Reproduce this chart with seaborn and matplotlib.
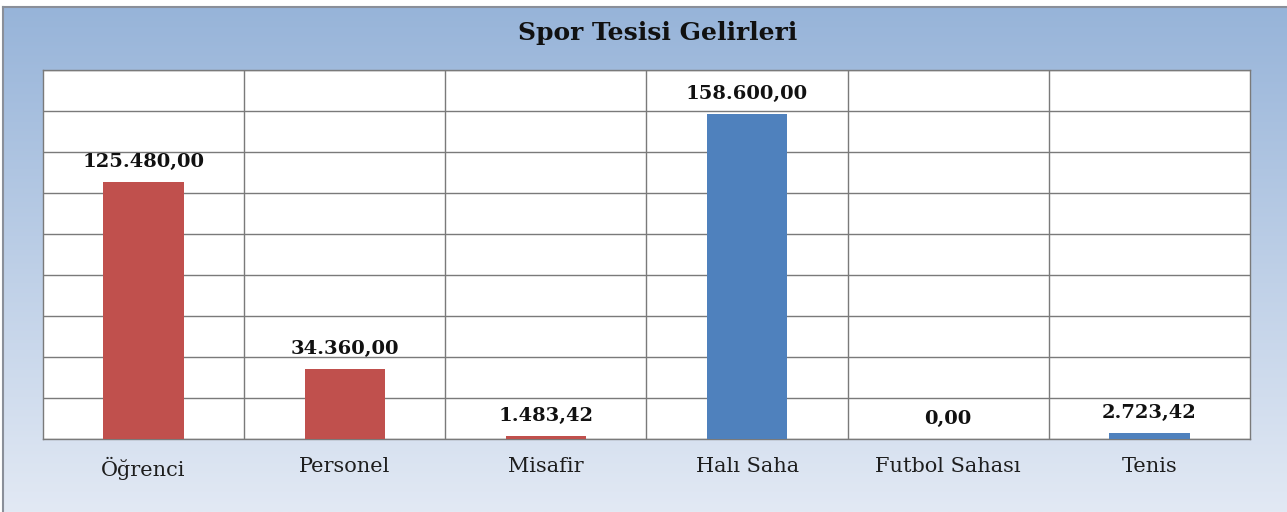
import numpy as np
import pandas as pd
import matplotlib
matplotlib.use("Agg")
import matplotlib.pyplot as plt
import seaborn as sns

categories = ["Öğrenci", "Personel", "Misafir", "Halı Saha", "Futbol Sahası", "Tenis"]
values = [125480.00, 34360.00, 1483.42, 158600.00, 0.00, 2723.42]
colors = ["#C0504D", "#C0504D", "#C0504D", "#4F81BD", "#4F81BD", "#4F81BD"]
title = "Spor Tesisi Gelirleri"

sns.set_theme(style="white")
plt.rcParams['font.family'] = ['DejaVu Serif', 'Liberation Serif']

W, H = 1287, 512
fig = plt.figure(figsize=(W / 100, H / 100), dpi=100, facecolor="white")

# gradient chart-area background
bg = fig.add_axes([3 / W, 0, 1 - 3 / W, 1 - 7 / H], zorder=0)
top = np.array([0x97, 0xB4, 0xD9]) / 255
bot = np.array([0xE2, 0xE9, 0xF4]) / 255
t = np.linspace(0, 1, 256)[:, None]
grad = top[None, :] * (1 - t) + bot[None, :] * t
bg.imshow(grad[:, None, :].repeat(2, axis=1), aspect="auto", extent=[0, 1, 0, 1])
bg.set_xticks([]); bg.set_yticks([])
for k, s in bg.spines.items():
    if k in ("top", "left"):
        s.set_color("#8A8F99"); s.set_linewidth(1.5)
    else:
        s.set_visible(False)

ax = fig.add_axes([43 / W, (H - 439) / H, (1250 - 43) / W, (439 - 70) / H], zorder=1)
ax.set_facecolor("white")
df = pd.DataFrame({"cat": categories, "val": values})
sns.barplot(data=df, x="cat", y="val", hue="cat", palette=colors, width=0.4,
            legend=False, ax=ax, zorder=3, saturation=1, linewidth=0)
ax.set_xlim(-0.5, len(categories) - 0.5)
ax.set_ylim(0, 180000)
ax.set_yticks(np.arange(0, 180001, 20000))
ax.set_yticklabels([])
ax.set_xticks(np.arange(len(categories)))
ax.set_xticks(np.arange(0.5, len(categories) - 0.5, 1), minor=True)
ax.grid(True, axis="y", which="major", color="#7A7A7A", linewidth=1, zorder=0)
ax.grid(True, axis="x", which="minor", color="#7A7A7A", linewidth=1, zorder=0)
ax.grid(False, axis="x", which="major")
ax.tick_params(axis="both", which="both", length=0)
ax.tick_params(axis="x", pad=13, labelsize=15, labelcolor="#1E1E1E")
ax.set_xlabel(""); ax.set_ylabel("")
for s in ax.spines.values():
    s.set_color("#7A7A7A"); s.set_linewidth(1)

def fmt(v):
    s = f"{v:,.2f}"
    return s.replace(",", "X").replace(".", ",").replace("X", ".")

for i, v in enumerate(values):
    ax.annotate(fmt(v), (i, v), xytext=(0, 20), textcoords="offset pixels",
                ha="center", va="center", fontsize=14, fontweight="bold",
                color="#111111", zorder=5)

fig.text(658 / W, 1 - 33 / H, title, ha="center", va="center", fontsize=18,
         fontweight="bold", color="#111111")

fig.savefig("out.png", dpi=100, facecolor="white")
